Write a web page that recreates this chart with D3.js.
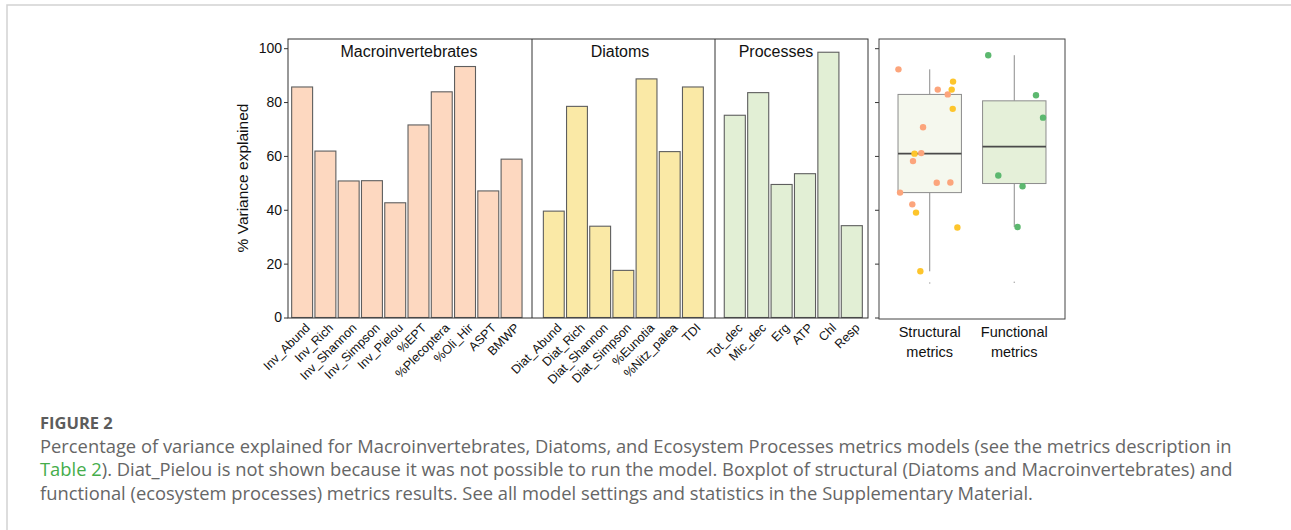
<!DOCTYPE html>
<html lang="en">
<head>
<meta charset="UTF-8">
<title>Figure 2 - Percentage of variance explained</title>
<style>
  html, body { margin: 0; background: #fff; }
  svg text { font-family: 'Liberation Sans', Arial, sans-serif; fill: #111; }
  svg text.caption { font-family: 'Open Sans', sans-serif; fill: #666; }
</style>
</head>
<body>
<svg id="fig" width="1291" height="530"></svg>
<script src="https://d3js.org/d3.v7.min.js"></script>
<script>
// ---- data ----
const macroNames = ["Inv_Abund", "Inv_Rich", "Inv_Shannon", "Inv_Simpson", "Inv_Pielou",
  "%EPT", "%Plecoptera", "%Oli_Hir", "ASPT", "BMWP"];
const macroValues = [85.6, 61.8, 50.7, 50.8, 42.6, 71.5, 83.8, 93.2, 47.0, 58.8];

const diatNames = ["Diat_Abund", "Diat_Rich", "Diat_Shannon", "Diat_Simpson",
  "%Eunotia", "%Nitz_palea", "TDI"];
const diatValues = [39.5, 78.4, 33.9, 17.5, 88.6, 61.6, 85.6];

const procNames = ["Tot_dec", "Mic_dec", "Erg", "ATP", "Chl", "Resp"];
const procValues = [75.1, 83.5, 49.4, 53.4, 98.5, 34.1];

// horizontal jitter of the boxplot points (in category units)
const macroJitter = [0.095, -0.10, 0.083, 0.244, -0.206, -0.079, 0.213, -0.37, -0.351, -0.198];
const diatJitter = [-0.162, 0.272, 0.327, -0.111, 0.276, -0.18, 0.26];
const procJitter = [0.34, 0.257, 0.098, -0.189, -0.308, 0.039];

const yTicks = [0, 20, 40, 60, 80, 100];
const boxNames = ["Structural", "Functional"];
const strayValues = [13.1, 13.4]; // tiny grey marks under each box

// ---- layout ----
const svg = d3.select("#fig");

svg.append("path")
    .attr("d", "M7,530V5H1291")
    .attr("fill", "none")
    .attr("stroke", "#d2d2d2")
    .attr("stroke-width", 1.5);

const y = d3.scaleLinear().domain([0, 100]).range([317.5, 48.2]);
const plotTop = 39, plotBottom = 318;

const panels = [
  {title: "Macroinvertebrates", names: macroNames, values: macroValues, fill: "#fdd8c0",
   x0: 288, x1: 532, b0: 290.5, b1: 523.2, titleX: 409},
  {title: "Diatoms", names: diatNames, values: diatValues, fill: "#fae9a6",
   x0: 532, x1: 715, b0: 542.2, b1: 704.5, titleX: 620},
  {title: "Processes", names: procNames, values: procValues, fill: "#e2efd5",
   x0: 715, x1: 868, b0: 723.1, b1: 863.5, titleX: 776}
];

const bars = svg.append("g");
const labels = svg.append("g");

panels.forEach(function (p) {
  const x = d3.scaleBand()
      .domain(p.names)
      .range([p.b0, p.b1])
      .paddingInner(0.1)
      .paddingOuter(0.05);

  bars.selectAll(null)
      .data(p.names)
      .join("rect")
      .attr("x", d => x(d))
      .attr("width", x.bandwidth())
      .attr("y", (d, i) => y(p.values[i]))
      .attr("height", (d, i) => y(0) - y(p.values[i]))
      .attr("fill", p.fill)
      .attr("stroke", "#5e5e5e")
      .attr("stroke-width", 1.1);

  svg.append("text")
      .attr("x", p.titleX)
      .attr("y", 57)
      .attr("text-anchor", "middle")
      .style("font-size", "16px")
      .text(p.title);

  labels.selectAll(null)
      .data(p.names)
      .join("text")
      .attr("transform", d => "translate(" + (x(d) + x.bandwidth() / 2 + 2) + ",322) rotate(-45)")
      .attr("text-anchor", "end")
      .attr("dy", "0.75em")
      .style("font-size", "12.5px")
      .text(d => d);
});

// panel frame + dividers
svg.append("rect")
    .attr("x", 288).attr("y", plotTop)
    .attr("width", 868 - 288).attr("height", plotBottom - plotTop)
    .attr("fill", "none").attr("stroke", "#333").attr("stroke-width", 1);
[532, 715].forEach(function (xv) {
  svg.append("line")
      .attr("x1", xv).attr("x2", xv).attr("y1", plotTop).attr("y2", plotBottom)
      .attr("stroke", "#333");
});

// y axis
const yAxis = svg.append("g")
    .attr("transform", "translate(288,0)")
    .call(d3.axisLeft(y).tickValues(yTicks).tickSize(4).tickPadding(2));
yAxis.select(".domain").remove();
yAxis.selectAll(".tick line").attr("stroke", "#333");
yAxis.selectAll(".tick text")
    .attr("fill", "#111")
    .style("font-size", "14px")
    .style("font-family", "'Liberation Sans', Arial, sans-serif");

svg.append("text")
    .attr("transform", "translate(248,178) rotate(-90)")
    .attr("text-anchor", "middle")
    .style("font-size", "15.5px")
    .text("% Variance explained");

// ---- boxplot panel ----
const yb = d3.scaleLinear().domain([0, 100]).range([318, 51.2]);
const xb = d3.scalePoint().domain(boxNames).range([879, 1065]).padding(0.6);
const boxW = xb.step() * 0.75;

const boxGroups = [
  {name: "Structural", values: macroValues.concat(diatValues), fill: "#f5f8ee"},
  {name: "Functional", values: procValues, fill: "#e5f0d9"}
];

const bp = svg.append("g");
const bAxis = bp.append("g")
    .attr("transform", "translate(879,0)")
    .call(d3.axisLeft(y).tickValues(yTicks).tickSize(4).tickFormat(""));
bAxis.select(".domain").remove();
bAxis.selectAll(".tick line").attr("stroke", "#333");

boxGroups.forEach(function (g, gi) {
  const s = g.values.slice().sort(d3.ascending);
  const q1 = d3.quantile(s, 0.25), med = d3.quantile(s, 0.5), q3 = d3.quantile(s, 0.75);
  const iqr = q3 - q1;
  const lo = d3.min(s.filter(v => v >= q1 - 1.5 * iqr));
  const hi = d3.max(s.filter(v => v <= q3 + 1.5 * iqr));
  const cx = xb(g.name);

  bp.append("line")
      .attr("x1", cx).attr("x2", cx).attr("y1", yb(hi)).attr("y2", yb(q3))
      .attr("stroke", "#8c8c8c");
  bp.append("line")
      .attr("x1", cx).attr("x2", cx).attr("y1", yb(q1)).attr("y2", yb(lo))
      .attr("stroke", "#8c8c8c");
  bp.append("rect")
      .attr("x", cx - boxW / 2).attr("width", boxW)
      .attr("y", yb(q3)).attr("height", yb(q1) - yb(q3))
      .attr("fill", g.fill).attr("stroke", "#8c8c8c").attr("stroke-width", 1);
  bp.append("line")
      .attr("x1", cx - boxW / 2).attr("x2", cx + boxW / 2)
      .attr("y1", yb(med)).attr("y2", yb(med))
      .attr("stroke", "#4a4a4a").attr("stroke-width", 1.8);
  bp.append("circle")
      .attr("cx", cx).attr("cy", yb(strayValues[gi])).attr("r", 0.8)
      .attr("fill", "#aaa");
});

const pts = [];
macroValues.forEach((v, i) => pts.push({g: "Structural", v: v, j: macroJitter[i], c: "#fca57c"}));
diatValues.forEach((v, i) => pts.push({g: "Structural", v: v, j: diatJitter[i], c: "#fdc52c"}));
procValues.forEach((v, i) => pts.push({g: "Functional", v: v, j: procJitter[i], c: "#5cb86f"}));

bp.selectAll("circle.pt")
    .data(pts)
    .join("circle")
    .attr("class", "pt")
    .attr("cx", d => xb(d.g) + d.j * xb.step())
    .attr("cy", d => yb(d.v))
    .attr("r", 3.2)
    .attr("fill", d => d.c);

bp.append("rect")
    .attr("x", 879).attr("y", plotTop)
    .attr("width", 1065 - 879).attr("height", 319 - plotTop)
    .attr("fill", "none").attr("stroke", "#444");

boxNames.forEach(function (n) {
  const t = bp.append("text")
      .attr("x", xb(n))
      .attr("y", 337)
      .attr("text-anchor", "middle")
      .style("font-size", "14.5px");
  t.append("tspan").attr("x", xb(n)).text(n);
  t.append("tspan").attr("x", xb(n)).attr("dy", 19.5).text("metrics");
});

// ---- caption ----
const capLines = [
  [{t: "Percentage of variance explained for Macroinvertebrates, Diatoms, and Ecosystem Processes metrics models (see the metrics description in"}],
  [{t: "Table 2", c: "#45ad4b"}, {t: "). Diat_Pielou is not shown because it was not possible to run the model. Boxplot of structural (Diatoms and Macroinvertebrates) and"}],
  [{t: "functional (ecosystem processes) metrics results. See all model settings and statistics in the Supplementary Material."}]
];

svg.append("text")
    .attr("class", "caption")
    .attr("x", 40).attr("y", 429)
    .style("font-size", "16.5px")
    .style("font-weight", "bold")
    .style("fill", "#5c5c5c")
    .text("FIGURE 2");

const capTexts = capLines.map(function (parts, li) {
  const t = svg.append("text")
      .attr("class", "caption")
      .attr("x", 40)
      .attr("y", 452.5 + li * 23.8)
      .style("font-size", "16px");
  parts.forEach(function (p) {
    const ts = t.append("tspan").text(p.t);
    if (p.c) ts.style("fill", p.c);
  });
  return t;
});

// fit the caption size to the width of the first line in the figure
const w0 = capTexts[0].node().getComputedTextLength();
const fs = 16 * 1192 / w0;
capTexts.forEach(t => t.style("font-size", fs + "px"));
</script>
</body>
</html>
